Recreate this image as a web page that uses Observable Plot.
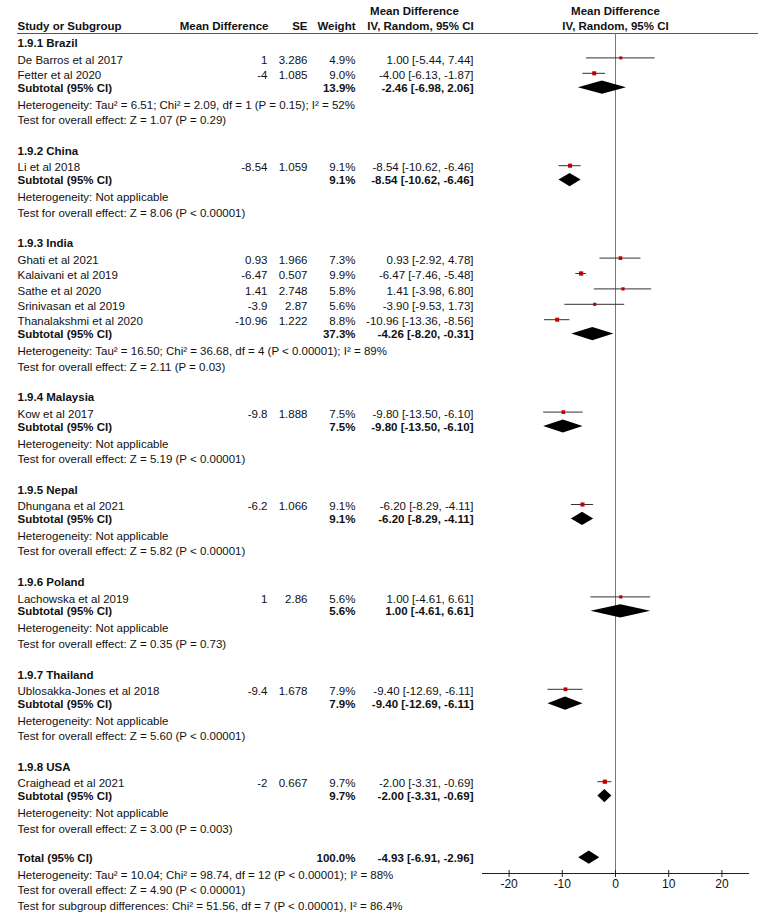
<!DOCTYPE html>
<html><head><meta charset="utf-8">
<script src="https://cdn.jsdelivr.net/npm/d3@7"></script>
<script src="https://cdn.jsdelivr.net/npm/@observablehq/plot@0.6"></script>
<style>html,body{margin:0;padding:0;background:#fff} svg{display:block}</style>
</head><body><div id="chart"></div>
<script>
// ---------- data ----------
const groupNames = ["1.9.1 Brazil","1.9.2 China","1.9.3 India","1.9.4 Malaysia","1.9.5 Nepal","1.9.6 Poland","1.9.7 Thailand","1.9.8 USA"];
const studies = ["De Barros et al 2017","Fetter et al 2020","Li et al 2018","Ghati et al 2021","Kalaivani et al 2019","Sathe et al 2020","Srinivasan et al 2019","Thanalakshmi et al 2020","Kow et al 2017","Dhungana et al 2021","Lachowska et al 2019","Ublosakka-Jones et al 2018","Craighead et al 2021"];
const studyGroup = [0,0,1,2,2,2,2,2,3,4,5,6,7];
const meanDiff = [1,-4,-8.54,0.93,-6.47,1.41,-3.9,-10.96,-9.8,-6.2,1,-9.4,-2];
const se = ["3.286","1.085","1.059","1.966","0.507","2.748","2.87","1.222","1.888","1.066","2.86","1.678","0.667"];
const weight = [4.9,9.0,9.1,7.3,9.9,5.8,5.6,8.8,7.5,9.1,5.6,7.9,9.7];
const ciLow = [-5.44,-6.13,-10.62,-2.92,-7.46,-3.98,-9.53,-13.36,-13.50,-8.29,-4.61,-12.69,-3.31];
const ciHigh = [7.44,-1.87,-6.46,4.78,-5.48,6.80,1.73,-8.56,-6.10,-4.11,6.61,-6.11,-0.69];

const subWeight = [13.9,9.1,37.3,7.5,9.1,5.6,7.9,9.7];
const subEst = [-2.46,-8.54,-4.26,-9.80,-6.20,1.00,-9.40,-2.00];
const subLow = [-6.98,-10.62,-8.20,-13.50,-8.29,-4.61,-12.69,-3.31];
const subHigh = [2.06,-6.46,-0.31,-6.10,-4.11,6.61,-6.11,-0.69];
const subHet = [
  "Heterogeneity: Tau² = 6.51; Chi² = 2.09, df = 1 (P = 0.15); I² = 52%",
  "Heterogeneity: Not applicable",
  "Heterogeneity: Tau² = 16.50; Chi² = 36.68, df = 4 (P < 0.00001); I² = 89%",
  "Heterogeneity: Not applicable",
  "Heterogeneity: Not applicable",
  "Heterogeneity: Not applicable",
  "Heterogeneity: Not applicable",
  "Heterogeneity: Not applicable"];
const subTest = [
  "Test for overall effect: Z = 1.07 (P = 0.29)",
  "Test for overall effect: Z = 8.06 (P < 0.00001)",
  "Test for overall effect: Z = 2.11 (P = 0.03)",
  "Test for overall effect: Z = 5.19 (P < 0.00001)",
  "Test for overall effect: Z = 5.82 (P < 0.00001)",
  "Test for overall effect: Z = 0.35 (P = 0.73)",
  "Test for overall effect: Z = 5.60 (P < 0.00001)",
  "Test for overall effect: Z = 3.00 (P = 0.003)"];

const totalWeight = 100.0;
const totalEst = -4.93, totalLow = -6.91, totalHigh = -2.96;
const totalNotes = [
  "Heterogeneity: Tau² = 10.04; Chi² = 98.74, df = 12 (P < 0.00001); I² = 88%",
  "Test for overall effect: Z = 4.90 (P < 0.00001)",
  "Test for subgroup differences: Chi² = 51.56, df = 7 (P < 0.00001), I² = 86.4%"];

const xTicks = [-20,-10,0,10,20];

// ---------- build rows ----------
const ci = (e,l,h) => `${e.toFixed(2)} [${l.toFixed(2)}, ${h.toFixed(2)}]`;
const rows = [];
let r = 0;
groupNames.forEach((g, gi) => {
  rows.push({r, kind:"title", label:g}); r++;
  studies.forEach((s, i) => {
    if (studyGroup[i] === gi) {
      rows.push({r, kind:"study", label:s, md:String(meanDiff[i]), se:se[i], w:weight[i].toFixed(1)+"%",
        ci:ci(meanDiff[i], ciLow[i], ciHigh[i]), est:meanDiff[i], lo:ciLow[i], hi:ciHigh[i], weight:weight[i]});
      r++;
    }
  });
  rows.push({r, kind:"subtotal", label:"Subtotal (95% CI)", w:subWeight[gi].toFixed(1)+"%",
    ci:ci(subEst[gi], subLow[gi], subHigh[gi]), est:subEst[gi], lo:subLow[gi], hi:subHigh[gi]}); r++;
  rows.push({r, kind:"note", label:subHet[gi]}); r++;
  rows.push({r, kind:"note", label:subTest[gi]}); r++;
  r++;
});
rows.push({r, kind:"subtotal", label:"Total (95% CI)", w:totalWeight.toFixed(1)+"%",
  ci:ci(totalEst, totalLow, totalHigh), est:totalEst, lo:totalLow, hi:totalHigh}); r++;
totalNotes.forEach(t => { rows.push({r, kind:"note", label:t}); r++; });

const studyRows = rows.filter(d => d.kind === "study");
const sumRows = rows.filter(d => d.kind === "subtotal");
const titleRows = rows.filter(d => d.kind === "title");
const noteRows = rows.filter(d => d.kind === "note");

// diamond polygons
const H = 0.43;
const diamonds = sumRows.flatMap((d, k) => [
  {id:k, x:d.lo, y1:d.r, y2:d.r},
  {id:k, x:d.est, y1:d.r - H, y2:d.r + H},
  {id:k, x:d.hi, y1:d.r, y2:d.r}
]);

// ---------- layout ----------
const W = 764, HGT = 918;
const mL = 482, mR = 16, mB = 45;
const rowTop = 43, rowStep = 15.4;
const rowAt = px => (px - rowTop) / rowStep;
const xs = d3.scaleLinear().domain([-25,25]).range([mL, W - mR]);
const col = px => px - mL;  // dx from frame left
const headerRow = rowAt(33), axisRow = rowAt(HGT - mB);
const dyStudy = 1, dySub = -1.5, dyStudyMark = -1, dySubMark = -2;

const font = "Liberation Sans, Arial, Helvetica, sans-serif";
const fs = 11.5;
const ink = "#111";

const T = (data, opts) => Plot.text(data, {frameAnchor: "left", fill: ink, ...opts});

const chart = Plot.plot({
  width: W, height: HGT,
  marginLeft: mL, marginRight: mR, marginTop: 0, marginBottom: mB,
  x: {domain: [-25, 25]},
  y: {domain: [0, 53], range: [rowTop, rowTop + 53 * rowStep], axis: null},
  r: {domain: [0, 10], range: [0, 2.4]},
  style: {fontFamily: font, fontSize: fs + "px", color: ink, background: "#fff"},
  marks: [
    // header
    T(["Study or Subgroup"], {y: -1, dx: col(17), textAnchor: "start", text: d => d, fontWeight: "bold", dy: -1.5}),
    T(["Mean Difference"], {y: -1, dx: col(268), textAnchor: "end", text: d => d, fontWeight: "bold", dy: -1.5}),
    T(["SE"], {y: -1, dx: col(307), textAnchor: "end", text: d => d, fontWeight: "bold", dy: -1.5}),
    T(["Weight"], {y: -1, dx: col(355), textAnchor: "end", text: d => d, fontWeight: "bold", dy: -1.5}),
    T(["Mean Difference"], {y: -2, dx: col(414), textAnchor: "middle", text: d => d, fontWeight: "bold", dy: -1.5}),
    T(["IV, Random, 95% CI"], {y: -1, dx: col(420), textAnchor: "middle", text: d => d, fontWeight: "bold", dy: -1.5}),
    Plot.text(["Mean Difference", "IV, Random, 95% CI"], {x: 0, y: (d, i) => i - 2, text: d => d, fontWeight: "bold", dy: -1.5, fill: ink}),
    Plot.ruleY([headerRow], {x1: xs.invert(17), x2: xs.invert(758), stroke: "#555", strokeWidth: 1}),

    // left column labels
    T(titleRows, {y: "r", text: "label", dx: col(17), textAnchor: "start", fontWeight: "bold"}),
    T(studyRows, {y: "r", text: "label", dx: col(17), textAnchor: "start", dy: dyStudy}),
    T(sumRows, {y: "r", text: "label", dx: col(17), textAnchor: "start", fontWeight: "bold", dy: dySub}),
    T(noteRows, {y: "r", text: "label", dx: col(17), textAnchor: "start"}),
    // numeric columns
    T(studyRows, {y: "r", text: "md", dx: col(267), textAnchor: "end", dy: dyStudy}),
    T(studyRows, {y: "r", text: "se", dx: col(307), textAnchor: "end", dy: dyStudy}),
    T(studyRows, {y: "r", text: "w", dx: col(355), textAnchor: "end", dy: dyStudy}),
    T(sumRows, {y: "r", text: "w", dx: col(355), textAnchor: "end", fontWeight: "bold", dy: dySub}),
    T(studyRows, {y: "r", text: "ci", dx: col(473), textAnchor: "end", dy: dyStudy}),
    T(sumRows, {y: "r", text: "ci", dx: col(473), textAnchor: "end", fontWeight: "bold", dy: dySub}),

    // forest
    Plot.ruleX([0], {y1: headerRow, y2: axisRow, stroke: "#777", strokeWidth: 1}),
    Plot.ruleY(studyRows, {y: "r", x1: "lo", x2: "hi", stroke: "#333", strokeWidth: 1, dy: dyStudyMark}),
    Plot.dot(studyRows, {x: "est", y: "r", r: "weight", symbol: "square", fill: "#c00000", stroke: null, dy: dyStudyMark}),
    Plot.areaY(diamonds, {x: "x", y1: "y1", y2: "y2", z: "id", fill: "#000", dy: dySubMark}),

    // axis
    Plot.frame({anchor: "bottom", stroke: "#222", strokeWidth: 1}),
    Plot.ruleX(xTicks, {y1: rowAt(HGT - mB - 3), y2: rowAt(HGT - mB + 4), stroke: "#222", strokeWidth: 1}),
    Plot.axisX(xTicks, {tickSize: 0, tickPadding: 6, label: null, fontSize: 12, fill: ink, tickFormat: d => String(d)})
  ]
});
document.getElementById("chart").appendChild(chart);
</script>
</body></html>
